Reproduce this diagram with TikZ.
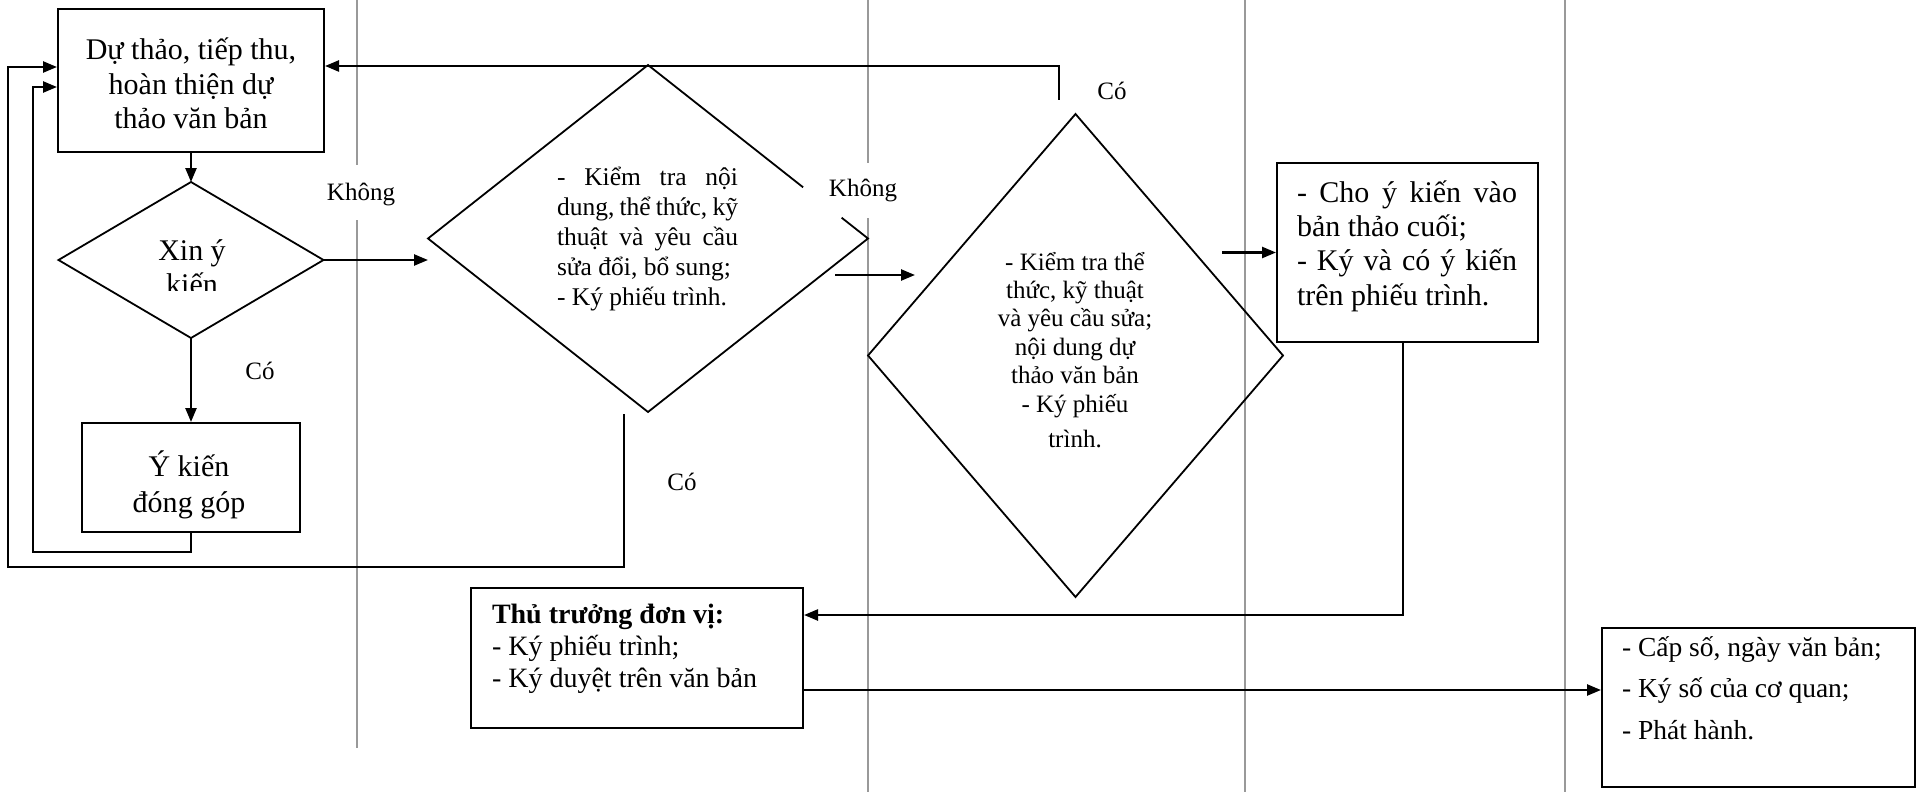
\documentclass[tikz,border=0pt]{standalone}
\usepackage{fontspec}
\setmainfont{Liberation Serif}
\usetikzlibrary{calc,shapes.geometric,arrows.meta}
\hyphenpenalty=10000
\exhyphenpenalty=10000
\newcommand\fsz[2]{\fontsize{#1pt}{#2pt}\selectfont}

\begin{document}
\begin{tikzpicture}[x=0.5pt,y=-0.5pt,
  frame/.style={draw, line width=1pt, inner sep=0pt},
  dia/.style={diamond, inner sep=0pt, outer sep=0pt, aspect=1},
  diaedge/.style={line width=0.9pt, line join=miter},
  arr/.style={line width=1.2pt, -{Triangle[length=7pt,width=5.5pt]}},
  link/.style={line width=1.2pt},
  lane/.style={draw=black!40, line width=0.7pt},
  txt/.style={inner sep=0pt, outer sep=0pt},
  lbl/.style={inner sep=0pt, font=\fsz{12.5}{14}},
]
\fill[white] (0,0) rectangle (1922,792);
\useasboundingbox (0,0) rectangle (1922,792);

% swim-lane separators
\draw[lane] (357,0) -- (357,165);
\draw[lane] (357,220) -- (357,748);
\draw[lane] (868,0) -- (868,163);
\draw[lane] (868,218) -- (868,792);
\draw[lane] (1245,0) -- (1245,792);
\draw[lane] (1565,0) -- (1565,792);

% boxes
\node[frame, minimum width=133pt, minimum height=71.5pt] (b1) at (191,80.5) {};
\node[frame, minimum width=109pt, minimum height=54.5pt] (b2) at (191,477.5) {};
\node[frame, minimum width=130.5pt, minimum height=89.5pt] (b3) at (1407.5,252.5) {};
\node[frame, minimum width=166pt, minimum height=70pt] (tt) at (637,658) {};
\node[frame, minimum width=156.5pt, minimum height=79.5pt] (b4) at (1758.5,707.5) {};

% decisions
\node[dia, draw, line width=0.9pt, minimum width=132.5pt, minimum height=78pt] (d1) at (191,260) {};
\node[dia, minimum width=220pt, minimum height=173.5pt] (d2) at (648,238.5) {};
\node[dia, draw, line width=0.9pt, minimum width=207.5pt, minimum height=241.5pt] (d3) at (1075.5,355.5) {};
\draw[diaedge] ($(d2.north)!0.88!(d2.east)$) -- (d2.east) -- (d2.south) -- (d2.west) -- (d2.north) -- ($(d2.north)!0.705!(d2.east)$);

% texts
\node[txt, anchor=base] (t1) at (191,60) {\parbox[t]{150pt}{\centering\fsz{15}{17.25}Dự thảo, tiếp thu,\\hoàn thiện dự\\thảo văn bản}};
\begin{scope}
  \clip (0,0) rectangle (1922,290);
  \node[txt, anchor=base] (td1) at (192,260) {\parbox[t]{80pt}{\centering\fsz{15}{17}Xin ý\\kiến}};
\end{scope}
\node[txt, anchor=base] (t2) at (189,476) {\parbox[t]{100pt}{\centering\fsz{15}{18}Ý kiến\\đóng góp}};
\node[txt, anchor=base west] (td2) at (557,185) {\parbox[t]{90.5pt}{\fsz{12.75}{15}- Kiểm tra nội\linebreak dung, thể thức, kỹ\linebreak thuật và yêu cầu\linebreak sửa đổi, bổ sung;\\- Ký phiếu trình.}};
\node[txt, anchor=base] (td3) at (1075,270) {\parbox[t]{100pt}{\centering\fsz{12.5}{14.2}- Kiểm tra thể\\thức, kỹ thuật\\và yêu cầu sửa;\\nội dung dự\\thảo văn bản\\- Ký phiếu\\[3.8pt]trình.}};
\node[txt, anchor=base west] (t3) at (1297,202) {\parbox[t]{110pt}{\fsz{15}{17.2}- Cho ý kiến vào\linebreak bản thảo cuối;\\- Ký và có ý kiến\linebreak trên phiếu trình.}};
\node[txt, anchor=base west] (ttt) at (492,623) {\parbox[t]{160pt}{\fsz{14}{16}\textbf{Thủ trưởng đơn vị:}\\- Ký phiếu trình;\\- Ký duyệt trên văn bản}};
\node[txt, anchor=base west] (t4) at (1622,656) {\parbox[t]{150pt}{\fsz{13.75}{20.75}- Cấp số, ngày văn bản;\\- Ký số của cơ quan;\\- Phát hành.}};

% branch labels
\node[lbl] (lk1) at (361,194) {Không};
\node[lbl] (lc1) at (260,371) {Có};
\node[lbl] (lk2) at (863,190) {Không};
\node[lbl] (lc2) at (1112,91) {Có};
\node[lbl] (lc3) at (682,482) {Có};

% free ends of connectors
\coordinate (d3up) at (1059,100);
\coordinate (d2drop) at (624,414);
\coordinate (k2a) at (835,275);
\coordinate (k2b) at (915,275);

% connectors
\draw[arr] (b1.south) -- (d1.north);
\draw[arr] (d1.south) -- (b2.north);
\draw[arr] (d1.east) -- (d1.east -| d2.west);
\draw[arr] (d3up) |- (b1.east |- 0,66);
\draw[arr] (b2.south) |- (33,552) |- (b1.west |- 0,87);
\draw[arr] (d2drop) |- (8,567) |- (b1.west |- 0,67);
\draw[arr] (k2a) -- (k2b);
\draw[arr] ([xshift=-27pt]b3.west) -- (b3.west);
\draw[arr] ([xshift=-2.2pt]b3.south) |- (tt.east |- 0,615);
\draw[arr] (tt.east |- 0,690) -- (b4.west |- 0,690);
\end{tikzpicture}
\end{document}
